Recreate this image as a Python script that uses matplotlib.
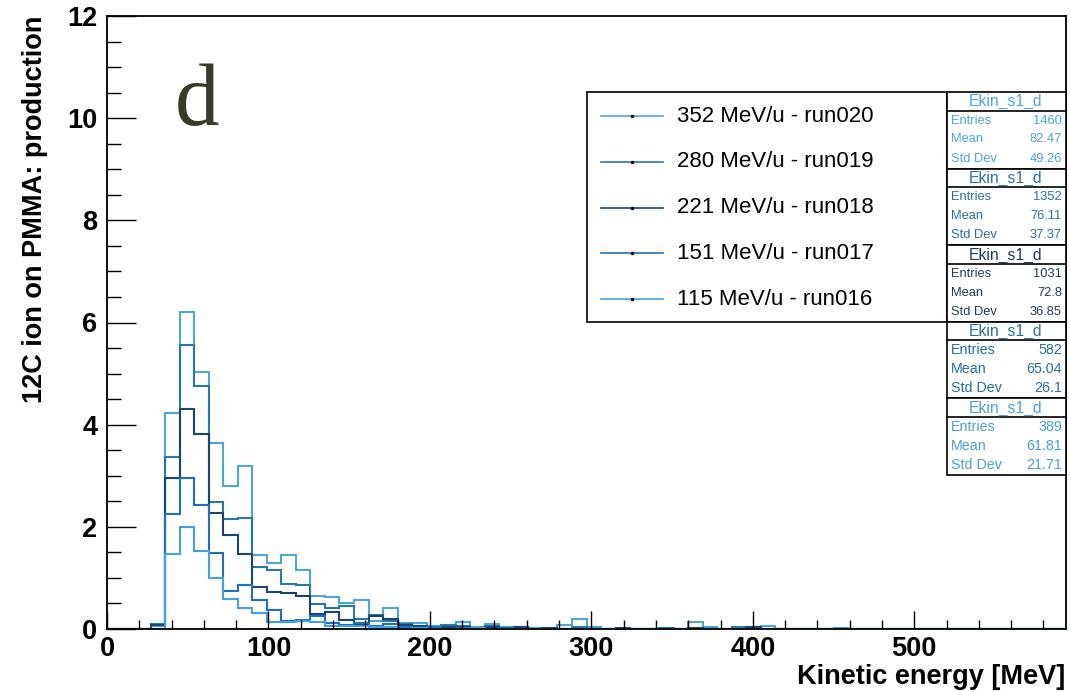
import numpy as np
import matplotlib
matplotlib.use("Agg")
import matplotlib.pyplot as plt
from matplotlib.patches import Rectangle
from matplotlib.lines import Line2D
from matplotlib.ticker import MultipleLocator

plt.rcParams['font.family'] = ['Liberation Sans', 'DejaVu Sans']

# Kinetic energy binning: 66 bins of 9 MeV
BIN_WIDTH = 9.0
N_BINS = 66
edges = np.arange(N_BINS + 1) * BIN_WIDTH


def sparse_bins(entries):
    values = np.zeros(N_BINS)
    for index, value in entries.items():
        values[index] = value
    return values


# bin index -> content, runs ordered from highest to lowest beam energy
run020 = {3: 0.05, 4: 4.22, 5: 6.21, 6: 5.03, 7: 3.65, 8: 2.79, 9: 3.19, 10: 1.45,
          11: 1.30, 12: 1.45, 13: 1.16, 14: 0.65, 15: 0.63, 16: 0.50, 17: 0.57,
          18: 0.15, 19: 0.42, 20: 0.12, 21: 0.12, 22: 0.05, 23: 0.05, 24: 0.14,
          25: 0.03, 26: 0.09, 27: 0.04, 28: 0.04, 29: 0.02, 31: 0.08, 32: 0.20,
          33: 0.04, 40: 0.14, 41: 0.04, 45: 0.06, 50: 0.02}
run019 = {3: 0.10, 4: 3.37, 5: 5.55, 6: 4.76, 7: 2.49, 8: 2.16, 9: 2.18, 10: 1.21,
          11: 1.16, 12: 0.89, 13: 0.86, 14: 0.48, 15: 0.42, 16: 0.45, 17: 0.20,
          18: 0.28, 19: 0.15, 20: 0.10, 21: 0.06, 22: 0.04, 23: 0.08, 24: 0.06,
          25: 0.02, 26: 0.06, 28: 0.04, 30: 0.02, 32: 0.04, 38: 0.02, 43: 0.04}
run018 = {3: 0.08, 4: 2.96, 5: 4.30, 6: 3.81, 7: 2.28, 8: 1.84, 9: 1.46, 10: 0.83,
          11: 0.73, 12: 0.70, 13: 0.65, 14: 0.30, 15: 0.33, 16: 0.18, 17: 0.10,
          18: 0.25, 19: 0.20, 20: 0.08, 21: 0.06, 22: 0.03, 23: 0.04, 24: 0.04,
          26: 0.04, 28: 0.03, 30: 0.02, 35: 0.02, 40: 0.02, 44: 0.03}
run017 = {4: 2.25, 5: 2.96, 6: 2.43, 7: 1.48, 8: 0.74, 9: 0.87, 10: 0.57, 11: 0.37,
          12: 0.16, 13: 0.18, 14: 0.25, 15: 0.12, 16: 0.08, 17: 0.12, 18: 0.05,
          19: 0.10, 20: 0.04, 22: 0.03, 24: 0.02, 27: 0.02}
run016 = {4: 1.47, 5: 2.00, 6: 1.53, 7: 1.00, 8: 0.58, 9: 0.42, 10: 0.31, 11: 0.14,
          12: 0.14, 13: 0.16, 14: 0.14, 15: 0.06, 16: 0.05, 17: 0.06, 18: 0.04,
          19: 0.03, 21: 0.02, 25: 0.02}

labels = ["352 MeV/u - run020", "280 MeV/u - run019", "221 MeV/u - run018",
          "151 MeV/u - run017", "115 MeV/u - run016"]
colors = ["#4ba6dc", "#2879ab", "#1c4470", "#1e6fcc", "#3f9ff0"]
stat_colors = ["#4ba6e6", "#2a70aa", "#1c3d62", "#2470a8", "#4aa0d8"]
entries = ["1460", "1352", "1031", "582", "389"]
means = ["82.47", "76.11", "72.8", "65.04", "61.81"]
std_devs = ["49.26", "37.37", "36.85", "26.1", "21.71"]
hist_name = "Ekin_s1_d"

W, H = 1070, 692
fig = plt.figure(figsize=(W / 100, H / 100), dpi=100)


def fx(px):
    return px / W


def fy(py):
    return 1 - py / H


ax = fig.add_axes([fx(107), fy(629), fx(1066) - fx(107), fy(16) - fy(629)])

for run, color in zip([run020, run019, run018, run017, run016], colors):
    ax.stairs(sparse_bins(run), edges, color=color, lw=1.5)

ax.set_xlim(0, edges[-1])
ax.set_ylim(0, 12)
for side in ax.spines.values():
    side.set_linewidth(1.3)

ax.xaxis.set_major_locator(MultipleLocator(100))
ax.xaxis.set_minor_locator(MultipleLocator(20))
ax.yaxis.set_major_locator(MultipleLocator(2))
ax.yaxis.set_minor_locator(MultipleLocator(0.5))
ax.tick_params(axis='x', which='major', direction='in', length=13, width=1, pad=5)
ax.tick_params(axis='x', which='minor', direction='in', length=6.5, width=1)
ax.tick_params(axis='y', which='major', direction='in', length=21, width=1, pad=7)
ax.tick_params(axis='y', which='minor', direction='in', length=10, width=1)
for lab in ax.get_xticklabels() + ax.get_yticklabels():
    lab.set_fontsize(19.5)
    lab.set_fontweight('bold')

fig.text(fx(1065), fy(684), "Kinetic energy [MeV]", ha='right', va='baseline',
         fontsize=19.5, fontweight='bold')
fig.text(fx(35), fy(16), "12C ion on PMMA: production", rotation=90,
         ha='center', va='top', fontsize=19.5, fontweight='bold')

fig.text(fx(175), fy(125), "d", ha='left', va='baseline', fontsize=64,
         family=['Liberation Serif', 'DejaVu Serif'], color='#3b3b2a')

# legend box
fig.patches.append(Rectangle((fx(587), fy(322)), fx(947) - fx(587), fy(92) - fy(322),
                             transform=fig.transFigure, facecolor='white',
                             edgecolor='black', lw=1.2, zorder=5))
for i, (label, color) in enumerate(zip(labels, colors)):
    y = fy(116 + i * 45.8)
    fig.lines.append(Line2D([fx(601), fx(663)], [y, y], transform=fig.transFigure,
                            color=color, lw=1.2, zorder=6))
    fig.lines.append(Line2D([fx(632)], [y], transform=fig.transFigure, marker='o',
                            markersize=1.5, color='black', zorder=7))
    fig.text(fx(677), y, label, ha='left', va='center', fontsize=16, zorder=7)

# statistics boxes, one per run
box_h = 76.6
title_h = 18.5
for i in range(5):
    top = 92 + i * box_h
    c = stat_colors[i]
    fig.patches.append(Rectangle((fx(947), fy(top + box_h)), fx(1066) - fx(947),
                                 fy(top) - fy(top + box_h), transform=fig.transFigure,
                                 facecolor='white', edgecolor='black', lw=1.2, zorder=5))
    fig.lines.append(Line2D([fx(947), fx(1066)], [fy(top + title_h)] * 2,
                            transform=fig.transFigure, color='black', lw=1.2, zorder=6))
    fig.text(fx(1006), fy(top + title_h / 2 + 0.5), hist_name, ha='center', va='center',
             fontsize=11.3, color=c, zorder=7)
    size = 9.3 if i < 3 else 10.3
    rows = [("Entries", entries[i]), ("Mean", means[i]), ("Std Dev", std_devs[i])]
    for j, (name, val) in enumerate(rows):
        y = fy(top + title_h + 10 + j * 19)
        fig.text(fx(951), y, name, ha='left', va='center', fontsize=size, color=c, zorder=7)
        fig.text(fx(1062), y, val, ha='right', va='center', fontsize=size, color=c, zorder=7)

fig.savefig("out.png", dpi=100)
